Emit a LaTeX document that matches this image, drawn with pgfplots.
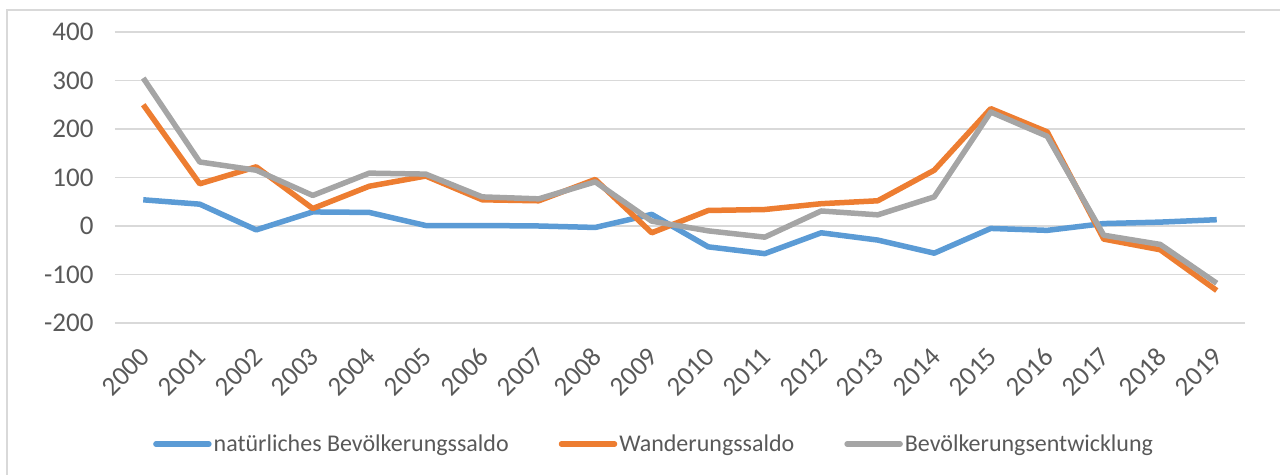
\documentclass[border=0pt]{standalone}
\usepackage{fontspec}
\setmainfont{Carlito}
\usepackage{pgfplots}
\pgfplotsset{compat=1.18}
\definecolor{cblue}{HTML}{5B9BD5}
\definecolor{corange}{HTML}{ED7D31}
\definecolor{cgray}{HTML}{A5A5A5}
\definecolor{cgrid}{HTML}{D9D9D9}
\definecolor{ctext}{HTML}{595959}
\begin{document}
\begin{tikzpicture}
\path[use as bounding box] (-115bp,-152bp) rectangle (1165bp,323bp);
\draw[cgrid, line width=1.2bp] (-108bp,-160bp) -- (-108bp,313bp) -- (1175bp,313bp);
\begin{axis}[
  scale only axis,
  width=1130bp, height=291bp,
  xmin=-0.5, xmax=19.5,
  ymin=-200, ymax=400,
  axis line style={draw=none},
  major tick length=0pt,
  ytick={-200,-100,0,100,200,300,400},
  yticklabels={-200,-100,0,100,200,300,400},
  xtick={0,...,19},
  xticklabels={2000,2001,2002,2003,2004,2005,2006,2007,2008,2009,2010,2011,2012,2013,2014,2015,2016,2017,2018,2019},
  ymajorgrids,
  grid style={cgrid, line width=1.5bp},
  tick label style={font=\fontsize{27bp}{31bp}\selectfont, text=ctext},
  yticklabel style={anchor=east, xshift=-18bp},
  xticklabel style={rotate=45, anchor=east, yshift=-22bp, xshift=-16bp},
  legend columns=3,
  legend style={at={(0.0336,-0.416)}, anchor=west, draw=none, fill=none, inner sep=0pt,
    font=\fontsize{24bp}{28bp}\selectfont, text=ctext,
    /tikz/every even column/.append style={column sep=48bp},
    nodes={inner sep=2bp}},
  legend image code/.code={\draw[#1, line cap=round] (0bp,0bp) -- (53bp,0bp);},
  every axis plot/.append style={line width=5.5bp, line join=round},
]
\addplot[cblue] coordinates {(0,54)(1,45)(2,-8)(3,29)(4,28)(5,1)(6,1)(7,0)(8,-3)(9,24)(10,-43)(11,-57)(12,-14)(13,-29)(14,-56)(15,-5)(16,-9)(17,5)(18,8)(19,13)};
\addlegendentry{natürliches Bevölkerungssaldo}
\addplot[corange] coordinates {(0,250)(1,87)(2,122)(3,36)(4,82)(5,103)(6,54)(7,52)(8,96)(9,-14)(10,32)(11,34)(12,46)(13,52)(14,115)(15,242)(16,194)(17,-27)(18,-49)(19,-133)};
\addlegendentry{Wanderungssaldo}
\addplot[cgray] coordinates {(0,305)(1,132)(2,115)(3,63)(4,109)(5,107)(6,60)(7,56)(8,91)(9,10)(10,-10)(11,-23)(12,31)(13,23)(14,60)(15,235)(16,185)(17,-19)(18,-38)(19,-118)};
\addlegendentry{Bevölkerungsentwicklung}
\end{axis}
\end{tikzpicture}
\end{document}
